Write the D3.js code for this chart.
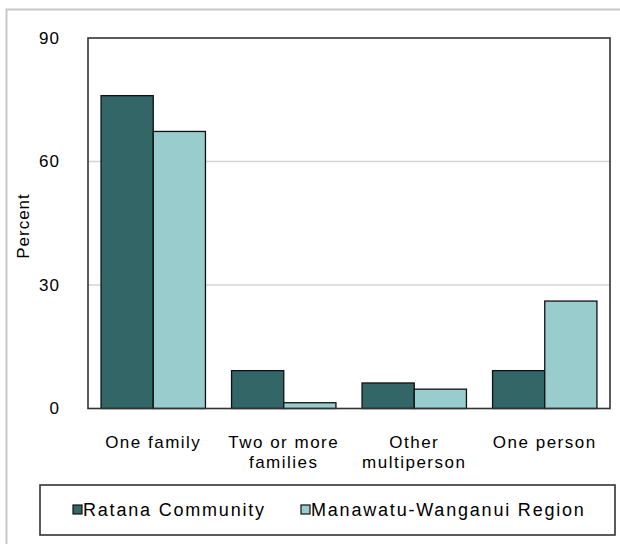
<!DOCTYPE html>
<html><head><meta charset="utf-8">
<script src="https://cdn.jsdelivr.net/npm/d3@7"></script>
<style>body{margin:0;background:#fff}text{font-family:"Liberation Sans",Arial,sans-serif;fill:#000}</style>
</head><body>
<svg id="c" width="620" height="544"></svg>
<script>
const categories = [["One family"], ["Two or more","families"], ["Other","multiperson"], ["One person"]];
const seriesNames = ["Ratana Community", "Manawatu-Wanganui Region"];
const ratana = [76, 9.2, 6.2, 9.2];
const region = [67.3, 1.4, 4.7, 26.1];
const yTicks = [0, 30, 60, 90];
const colors = ["#336666", "#99CCCC"];

const svg = d3.select("#c");
svg.append("rect").attr("x",6.5).attr("y",9.5).attr("width",640).attr("height",600)
  .attr("fill","none").attr("stroke","#c8c8c8").attr("stroke-width",2);

const L=88, R=610, T=38, B=408.5;
const x0 = d3.scaleBand().domain(d3.range(categories.length)).range([L,R]);
const y = d3.scaleLinear().domain([0,90]).range([B,T]);
const xs = d3.scaleBand().domain([0,1]).range([0, x0.bandwidth()*0.8]);

svg.append("g").selectAll("line").data(yTicks.filter(d=>d>0&&d<90)).join("line")
  .attr("x1",L).attr("x2",R).attr("y1",d=>y(d)).attr("y2",d=>y(d))
  .attr("stroke","#d4d4d4").attr("stroke-width",1.5);

const data = [ratana, region];
const g = svg.append("g");
data.forEach((vals,si)=>{
  g.selectAll(".s"+si).data(vals).join("rect")
    .attr("x",(d,i)=>x0(i)+x0.bandwidth()*0.1+xs(si))
    .attr("y",d=>y(d)).attr("width",xs.bandwidth()).attr("height",d=>B-y(d))
    .attr("fill",colors[si]).attr("stroke","#111").attr("stroke-width",1.3);
});

svg.append("rect").attr("x",L).attr("y",T).attr("width",R-L).attr("height",B-T)
  .attr("fill","none").attr("stroke","#333").attr("stroke-width",1.6);

const yAxis = d3.axisLeft(y).tickValues(yTicks).tickSize(0).tickPadding(28);
const ya = svg.append("g").attr("transform",`translate(${L},0)`).call(yAxis);
ya.select(".domain").remove();
ya.selectAll("text").style("font-family","Liberation Sans, Arial, sans-serif").style("font-size","17px")
  .style("letter-spacing","1px").attr("fill","#000");

svg.append("text").attr("transform","translate(29,226) rotate(-90)").attr("text-anchor","middle")
  .style("font-size","17px").style("letter-spacing","1px").text("Percent");

const xl = svg.append("g");
categories.forEach((lines,i)=>{
  const cx = x0(i)+x0.bandwidth()/2;
  const t = xl.append("text").attr("text-anchor","middle").style("font-size","17px")
    .style("letter-spacing","1.5px").attr("x", cx).attr("y",448);
  lines.forEach((ln,j)=>t.append("tspan").attr("x",cx).attr("dy",j?20:0).text(ln));
});

svg.append("rect").attr("x",40).attr("y",485).attr("width",575).attr("height",50)
  .attr("fill","none").attr("stroke","#333").attr("stroke-width",1.6);
const legX = [73, 301];
seriesNames.forEach((n,i)=>{
  svg.append("rect").attr("x",legX[i]).attr("y",505).attr("width",9).attr("height",9)
    .attr("fill",colors[i]).attr("stroke","#111").attr("stroke-width",1.2);
  svg.append("text").attr("x",legX[i]+10).attr("y",516).style("font-size","18px")
    .style("letter-spacing","1.8px").text(n);
});
</script>
</body></html>
